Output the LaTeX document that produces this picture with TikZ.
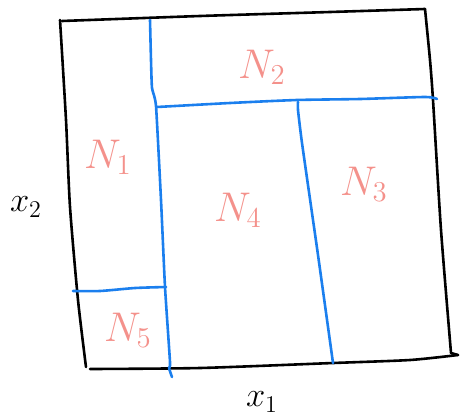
\documentclass[tikz,border=0pt]{standalone}
\usepackage{amsmath,amssymb}
\usepackage{tikz}
\usepackage{xcolor}
\definecolor{cutblue}{HTML}{1B7FEE}
\definecolor{cellpink}{HTML}{F4918B}

\begin{document}
\begin{tikzpicture}[x=0.5pt,y=-0.5pt,line cap=round,line join=round,
  box/.style={black,line width=1.3pt},
  cut/.style={cutblue,line width=1.3pt},
  cell/.style={cellpink,font=\huge},
  axis/.style={font=\LARGE}]
\useasboundingbox (0,0) rectangle (460,418);
% outer square
\draw[box] plot[smooth,tension=0.4] coordinates {(62,21) (200,16) (330,12) (425,9)};
\draw[box] plot[smooth,tension=0.4] coordinates {(425,9) (430,60) (433,100) (441,230) (451,353)};
\draw[box] (451,353) -- (458,355);
\draw[box] plot[smooth,tension=0.4] coordinates {(60,20) (66,120) (70,207) (78,300) (86,367)};
\draw[box] plot[smooth,tension=0.4] coordinates {(90,369) (200,368) (333,363) (410,360) (458,355)};
% splits
\draw[cut] plot[smooth,tension=0.3] coordinates {(150,20) (151,60) (152,88) (156,106) (161,200) (165,287) (170,362) (169,368) (172,377)};
\draw[cut] plot[smooth,tension=0.4] coordinates {(157,107) (230,103) (297,100) (360,99) (425,97) (437,99)};
\draw[cut] plot[smooth,tension=0.3] coordinates {(298,102) (298,110) (302,143) (318,255) (333,363)};
\draw[cut] plot[smooth,tension=0.4] coordinates {(73,291) (100,291) (135,288) (166,287)};
% cells
\node[cell] (n1) at (108,157) {$N_1$};
\node[cell] (n2) at (262,67) {$N_2$};
\node[cell] (n3) at (364,184) {$N_3$};
\node[cell] (n4) at (238,210) {$N_4$};
\node[cell] (n5) at (128,330) {$N_5$};
% axes
\node[axis] (x1) at (262,402) {$x_1$};
\node[axis] (x2) at (26,207) {$x_2$};
\end{tikzpicture}
\end{document}
